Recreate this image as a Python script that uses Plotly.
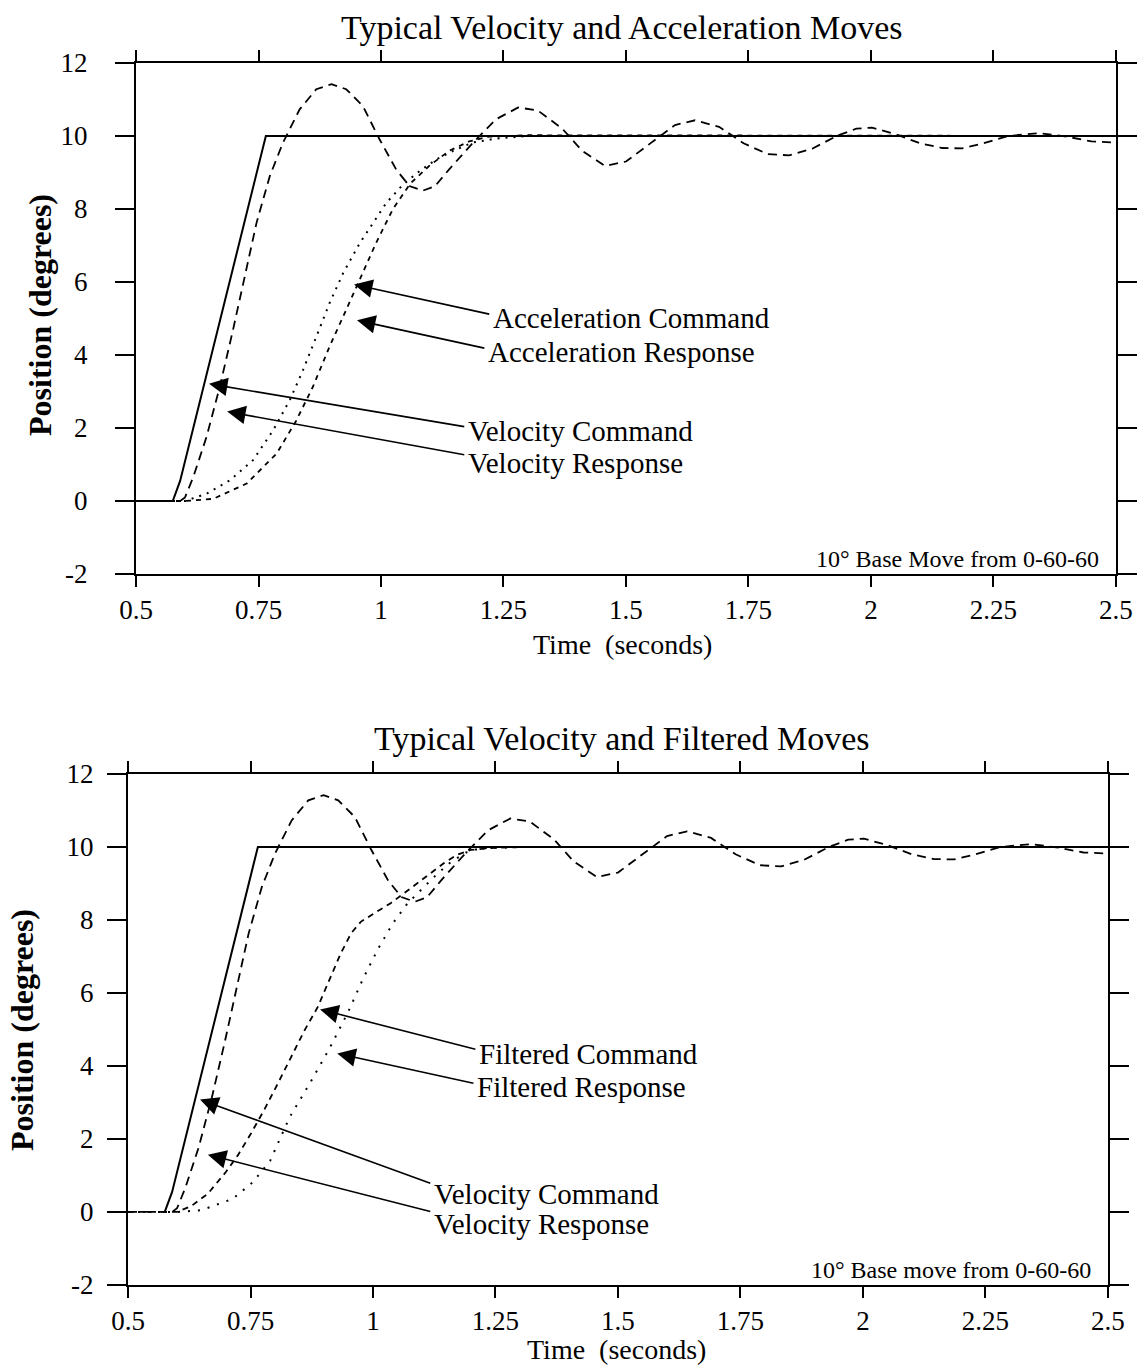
import plotly.graph_objects as go

# ---- data (time in seconds, position in degrees) ----
vel_cmd_t = [0.5, 0.575, 0.59, 0.765, 2.5]
vel_cmd_y = [0, 0, 0.55, 10, 10]

vel_resp_t = [0.5, 0.59, 0.6, 0.617, 0.644, 0.671, 0.698, 0.722, 0.746, 0.773, 0.80,
              0.834, 0.868, 0.899, 0.929, 0.963, 0.997, 1.031, 1.058, 1.085, 1.11,
              1.14, 1.19, 1.235, 1.28, 1.32, 1.37, 1.41, 1.457, 1.50, 1.55, 1.60,
              1.641, 1.69, 1.74, 1.79, 1.833, 1.88, 1.93, 1.97, 2.002, 2.05, 2.10,
              2.145, 2.186, 2.23, 2.28, 2.343, 2.40, 2.45, 2.5]
vel_resp_y = [0, 0, 0.1, 0.66, 1.76, 3.13, 4.69, 6.15, 7.62, 8.9, 9.82,
              10.73, 11.28, 11.42, 11.28, 10.82, 9.91, 9.08, 8.63, 8.5, 8.62,
              9.1, 9.85, 10.46, 10.78, 10.7, 10.2, 9.6, 9.18, 9.3, 9.8, 10.3,
              10.43, 10.25, 9.8, 9.5, 9.47, 9.65, 10.0, 10.2, 10.23, 10.05, 9.8,
              9.67, 9.66, 9.8, 10.0, 10.08, 9.98, 9.85, 9.82]

acc_cmd_t = [0.5, 0.6, 0.644, 0.692, 0.739, 0.78, 0.814, 0.841, 0.868, 0.895, 0.923,
             0.957, 0.984, 1.011, 1.045, 1.079, 1.113, 1.147, 1.187, 1.235, 1.3, 2.5]
acc_cmd_y = [0, 0, 0.2, 0.57, 1.12, 1.94, 2.77, 3.59, 4.5, 5.42, 6.25,
             7.07, 7.62, 8.17, 8.67, 9.04, 9.36, 9.59, 9.82, 9.93, 10, 10]

acc_resp_t = [0.5, 0.6, 0.658, 0.726, 0.787, 0.827, 0.861, 0.895, 0.929, 0.957, 0.99,
              1.024, 1.06, 1.1, 1.14, 1.18, 1.22, 1.3, 2.5]
acc_resp_y = [0, 0, 0.06, 0.48, 1.3, 2.2, 3.13, 4.23, 5.24, 6.06, 7.07,
              7.99, 8.7, 9.2, 9.6, 9.85, 9.98, 10.02, 10]

filt_cmd_t = [0.5, 0.6, 0.629, 0.663, 0.7, 0.724, 0.751, 0.778, 0.805, 0.832, 0.86,
              0.887, 0.914, 0.934, 0.955, 0.975, 1.002, 1.036, 1.063, 1.09, 1.117,
              1.145, 1.172, 1.2, 1.25, 1.3, 2.5]
filt_cmd_y = [0, 0, 0.16, 0.5, 1.1, 1.55, 2.15, 2.8, 3.5, 4.24, 4.97,
              5.61, 6.44, 7.08, 7.63, 7.95, 8.18, 8.46, 8.73, 9.0, 9.28,
              9.56, 9.79, 9.92, 9.98, 10, 10]

filt_resp_t = [0.5, 0.6, 0.65, 0.714, 0.755, 0.79, 0.83, 0.87, 0.91, 0.95, 0.98,
               1.01, 1.04, 1.07, 1.1, 1.13, 1.16, 1.19, 1.22, 1.3, 2.5]
filt_resp_y = [0, 0, 0.05, 0.36, 0.82, 1.4, 2.6, 3.5, 4.45, 5.5, 6.4,
               7.2, 7.9, 8.45, 8.85, 9.25, 9.6, 9.85, 9.97, 10, 10]

x_ticks = [0.5, 0.75, 1, 1.25, 1.5, 1.75, 2, 2.25, 2.5]
x_tick_text = ["0.5", "0.75", "1", "1.25", "1.5", "1.75", "2", "2.25", "2.5"]
y_ticks = [-2, 0, 2, 4, 6, 8, 10, 12]
y_tick_text = ["-2", "0", "2", "4", "6", "8", "10", "12"]

titles = ["Typical Velocity and Acceleration Moves", "Typical Velocity and Filtered Moves"]
notes = ["10° Base Move from 0-60-60", "10° Base move from 0-60-60"]

FONT = "Liberation Serif, Times New Roman, serif"
INK = "black"

fig = go.Figure()


def line(t, y, dash, width, xa, ya):
    fig.add_trace(go.Scatter(x=t, y=y, mode="lines", xaxis=xa, yaxis=ya,
                             line=dict(color=INK, width=width, dash=dash),
                             hoverinfo="skip", showlegend=False))


# top chart
line(acc_cmd_t, acc_cmd_y, "2px,6px", 2.0, "x", "y")
line(acc_resp_t, acc_resp_y, "5px,5px", 1.8, "x", "y")
line(vel_resp_t, vel_resp_y, "9px,6px", 1.8, "x", "y")
line(vel_cmd_t, vel_cmd_y, "solid", 2.0, "x", "y")

# bottom chart
line(filt_resp_t, filt_resp_y, "2px,8px", 2.0, "x2", "y2")
line(filt_cmd_t, filt_cmd_y, "6px,5px", 1.8, "x2", "y2")
line(vel_resp_t, vel_resp_y, "9px,6px", 1.8, "x2", "y2")
line(vel_cmd_t[1:], vel_cmd_y[1:], "solid", 2.0, "x2", "y2")

axis_common = dict(showline=True, linecolor=INK, linewidth=2, mirror="ticks",
                   ticks="outside", tickcolor=INK, tickwidth=2, showgrid=False,
                   zeroline=False, automargin=False,
                   tickfont=dict(family=FONT, size=27, color=INK))

xa = dict(axis_common, range=[0.5, 2.5], tickvals=x_ticks, ticktext=x_tick_text,
          ticklen=11, ticklabelstandoff=0)
ya = dict(axis_common, range=[-2, 12], tickvals=y_ticks, ticktext=y_tick_text,
          ticklen=19)

fig.update_layout(
    width=1142, height=1369,
    margin=dict(l=0, r=0, t=0, b=0),
    paper_bgcolor="white", plot_bgcolor="white",
    font=dict(family=FONT, color=INK),
    xaxis=dict(xa, domain=[0.1191, 0.9772], anchor="y"),
    yaxis=dict(ya, domain=[0.5807, 0.9540], anchor="x", ticklabelstandoff=22),
    xaxis2=dict(xa, domain=[0.1121, 0.9702], anchor="y2"),
    yaxis2=dict(ya, domain=[0.0614, 0.4346], anchor="x2", ticklabelstandoff=8),
)

ann = []

# chart titles and axis titles
for title, ty in zip(titles, [1 - 28 / 1369, 1 - 738 / 1369]):
    ann.append(dict(text=title, xref="paper", yref="paper", x=0.545, y=ty,
                    xanchor="center", yanchor="middle", showarrow=False,
                    font=dict(family=FONT, size=34, color=INK)))
for tx, ty in [(0.545, 1 - 644 / 1369), (0.540, 1 - 1349 / 1369)]:
    ann.append(dict(text="Time\u00a0 (seconds)", xref="paper", yref="paper", x=tx, y=ty,
                    xanchor="center", yanchor="middle", showarrow=False,
                    font=dict(family=FONT, size=28, color=INK)))
for tx, ty in [(40 / 1142, 1 - 315 / 1369), (22 / 1142, 1 - 1030 / 1369)]:
    ann.append(dict(text="<b>Position (degrees)</b>", xref="paper", yref="paper", x=tx, y=ty,
                    xanchor="center", yanchor="middle", showarrow=False, textangle=-90,
                    font=dict(family=FONT, size=32, color=INK)))

# move notes in the lower right corner
for note, xr, yr in zip(notes, ["x", "x2"], ["y", "y2"]):
    ann.append(dict(text=note, xref=xr, yref=yr, x=2.47, y=-1.6,
                    xanchor="right", yanchor="middle", showarrow=False,
                    font=dict(family=FONT, size=24, color=INK)))

# labelled arrows: (label, tip x, tip y, tail x, tail y, label y)
top_labels = [
    ("Acceleration Command", 0.945, 5.93, 1.224, 5.11, 5.0),
    ("Acceleration Response", 0.951, 4.95, 1.214, 4.18, 4.09),
    ("Velocity Command", 0.649, 3.21, 1.173, 2.03, 1.92),
    ("Velocity Response", 0.686, 2.45, 1.173, 1.26, 1.04),
]
bottom_labels = [
    ("Filtered Command", 0.892, 5.55, 1.212, 4.45, 4.34),
    ("Filtered Response", 0.927, 4.34, 1.208, 3.52, 3.43),
    ("Velocity Command", 0.647, 3.08, 1.12, 0.77, 0.49),
    ("Velocity Response", 0.663, 1.57, 1.12, 0.0, -0.33),
]

for labels, xr, yr in [(top_labels, "x", "y"), (bottom_labels, "x2", "y2")]:
    for text, tipx, tipy, tailx, taily, ly in labels:
        ann.append(dict(text="", xref=xr, yref=yr, x=tipx, y=tipy,
                        axref=xr, ayref=yr, ax=tailx, ay=taily,
                        showarrow=True, arrowhead=2, arrowsize=2.3, arrowwidth=1.6,
                        arrowcolor=INK, standoff=0, startstandoff=0))
        ann.append(dict(text=text, xref=xr, yref=yr, x=tailx, y=ly,
                        xanchor="left", yanchor="middle", showarrow=False,
                        font=dict(family=FONT, size=29, color=INK)))

fig.update_layout(annotations=ann)

fig.write_html("out.html")
